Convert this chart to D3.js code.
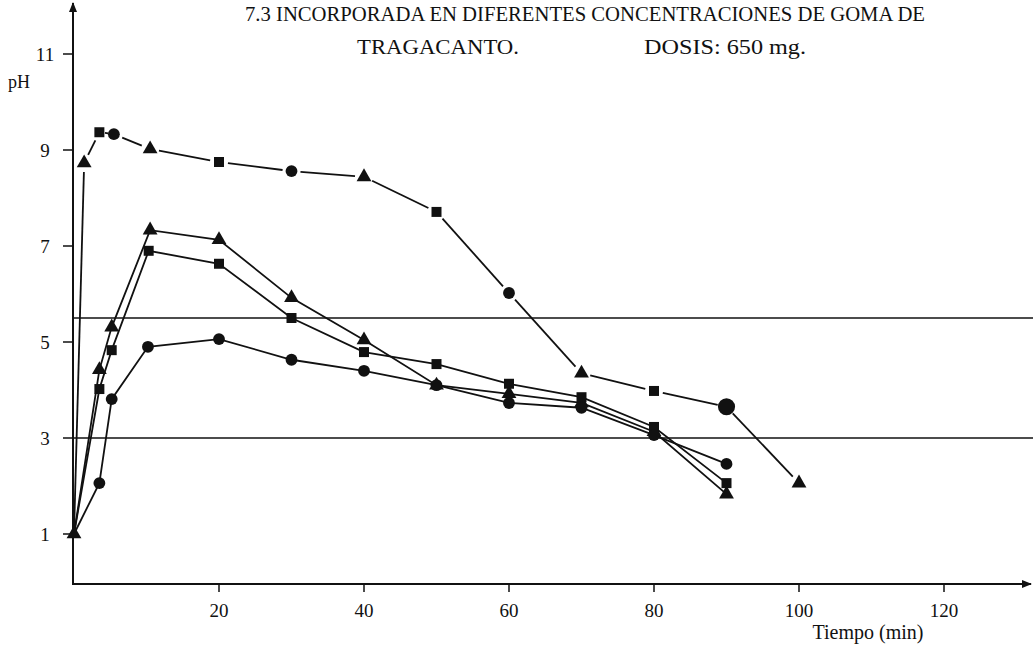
<!DOCTYPE html>
<html>
<head>
<meta charset="utf-8">
<script src="https://cdn.jsdelivr.net/npm/d3@7"></script>
<style>
  body { margin: 0; background: #fff; }
  svg { display: block; }
  text { font-family: "Liberation Serif", "DejaVu Serif", serif; fill: #111; }
</style>
</head>
<body>
<div id="chart"></div>
<script>
// pH vs tiempo - four series
const timesA = [0, 1.4, 3.5, 5.5, 10.5, 20, 30, 40, 50, 60, 70, 80, 90, 100];
const phA = [1, 8.73, 9.37, 9.33, 9.02, 8.75, 8.56, 8.44, 7.71, 6.02, 4.35, 3.98, 3.65, 2.06];
const shapesA = ['triangle', 'triangle', 'square', 'circle', 'triangle', 'square', 'circle',
  'triangle', 'square', 'circle', 'triangle', 'square', 'bigcircle', 'triangle'];

const timesB = [0, 3.5, 5.2, 10.5, 20, 30, 40, 50, 60, 70, 80, 90];
const phB = [1, 4.42, 5.31, 7.33, 7.13, 5.92, 5.04, 4.1, 3.92, 3.73, 3.13, 1.83];

const timesC = [0, 3.5, 5.2, 10.3, 20, 30, 40, 50, 60, 70, 80, 90];
const phC = [1, 4.02, 4.83, 6.9, 6.63, 5.5, 4.79, 4.54, 4.13, 3.85, 3.23, 2.06];

const timesD = [0, 3.5, 5.2, 10.2, 20, 30, 40, 50, 60, 70, 80, 90];
const phD = [1, 2.06, 3.81, 4.9, 5.06, 4.63, 4.4, 4.1, 3.73, 3.63, 3.06, 2.46];

const refLines = [5.5, 3];
const yTicks = [1, 3, 5, 7, 9, 11];
const xTicks = [20, 40, 60, 80, 100, 120];

const width = 1033;
const height = 649;

const x = d3.scaleLinear().domain([0, 132]).range([74, 1031]);
const y = d3.scaleLinear().domain([0, 12]).range([582, 6]);

const svg = d3.select('#chart')
  .append('svg')
  .attr('width', width)
  .attr('height', height);

svg.append('defs').append('marker')
  .attr('id', 'arrow')
  .attr('viewBox', '0 0 10 10')
  .attr('refX', 9).attr('refY', 5)
  .attr('markerWidth', 5).attr('markerHeight', 5)
  .attr('orient', 'auto')
  .append('path')
  .attr('d', 'M0,1 L10,5 L0,9 Z')
  .attr('fill', '#111');

// Title
svg.append('text')
  .attr('x', 245).attr('y', 21)
  .attr('textLength', 680)
  .attr('lengthAdjust', 'spacingAndGlyphs')
  .style('font-size', '20px')
  .text('7.3 INCORPORADA EN DIFERENTES CONCENTRACIONES DE GOMA DE');

svg.append('text')
  .attr('x', 357).attr('y', 54)
  .attr('textLength', 162)
  .attr('lengthAdjust', 'spacingAndGlyphs')
  .style('font-size', '21px')
  .text('TRAGACANTO.');

svg.append('text')
  .attr('x', 644).attr('y', 54)
  .attr('textLength', 162)
  .attr('lengthAdjust', 'spacingAndGlyphs')
  .style('font-size', '21px')
  .text('DOSIS: 650 mg.');

// Axes
svg.append('line')
  .attr('x1', x(0) - 1).attr('x2', x(0) - 1)
  .attr('y1', y(0) + 2).attr('y2', 3)
  .attr('stroke', '#111').attr('stroke-width', 2)
  .attr('marker-end', 'url(#arrow)');

svg.append('line')
  .attr('x1', x(0) - 2).attr('x2', x(132))
  .attr('y1', y(0) + 2).attr('y2', y(0) + 2)
  .attr('stroke', '#111').attr('stroke-width', 2)
  .attr('marker-end', 'url(#arrow)');

const yAxis = svg.append('g');
yAxis.selectAll('line')
  .data(yTicks)
  .enter()
  .append('line')
  .attr('x1', x(0) - 11).attr('x2', x(0) - 1)
  .attr('y1', d => y(d)).attr('y2', d => y(d))
  .attr('stroke', '#111').attr('stroke-width', 1.5);
yAxis.selectAll('text')
  .data(yTicks)
  .enter()
  .append('text')
  .attr('x', 45).attr('y', d => y(d))
  .attr('dy', '0.35em')
  .attr('text-anchor', 'middle')
  .style('font-size', '19px')
  .text(d => d);

svg.append('text')
  .attr('x', 8).attr('y', 88)
  .style('font-size', '18px')
  .text('pH');

const xAxis = svg.append('g');
xAxis.selectAll('line')
  .data(xTicks)
  .enter()
  .append('line')
  .attr('x1', d => x(d)).attr('x2', d => x(d))
  .attr('y1', y(0) + 2).attr('y2', y(0) + 10)
  .attr('stroke', '#111').attr('stroke-width', 1.5);
xAxis.selectAll('text')
  .data(xTicks)
  .enter()
  .append('text')
  .attr('x', d => x(d)).attr('y', 617)
  .attr('text-anchor', 'middle')
  .style('font-size', '19px')
  .text(d => d);

svg.append('text')
  .attr('x', 868).attr('y', 639)
  .attr('text-anchor', 'middle')
  .style('font-size', '20px')
  .text('Tiempo (min)');

// Reference lines
svg.selectAll('.ref')
  .data(refLines)
  .enter()
  .append('line')
  .attr('class', 'ref')
  .attr('x1', x(0) - 1).attr('x2', width)
  .attr('y1', d => y(d)).attr('y2', d => y(d))
  .attr('stroke', '#111').attr('stroke-width', 1.6);

// Series
const zip = (ts, vs) => ts.map((t, i) => ({ t, v: vs[i] }));
const line = d3.line().x(d => x(d.t)).y(d => y(d.v));

const series = [
  { pts: zip(timesB, phB), shape: () => 'triangle' },
  { pts: zip(timesC, phC), shape: () => 'square' },
  { pts: zip(timesD, phD), shape: () => 'circle' }
];

series.forEach(s => {
  svg.append('path')
    .datum(s.pts)
    .attr('d', line)
    .attr('fill', 'none')
    .attr('stroke', '#111')
    .attr('stroke-width', 1.8);
});

// Top series is drawn with small gaps around its markers
const ptsA = zip(timesA, phA);
const gap = 9;
const segs = d3.pairs(ptsA).map(([a, b], i) => {
  const x1 = x(a.t), y1 = y(a.v), x2 = x(b.t), y2 = y(b.v);
  const len = Math.hypot(x2 - x1, y2 - y1);
  const ux = (x2 - x1) / len, uy = (y2 - y1) / len;
  const g1 = i === 0 ? 0 : gap;
  return { x1: x1 + ux * g1, y1: y1 + uy * g1, x2: x2 - ux * gap, y2: y2 - uy * gap };
});
svg.selectAll('.segA')
  .data(segs)
  .enter()
  .append('line')
  .attr('class', 'segA')
  .attr('x1', d => d.x1).attr('y1', d => d.y1)
  .attr('x2', d => d.x2).attr('y2', d => d.y2)
  .attr('stroke', '#111')
  .attr('stroke-width', 1.8);

// Markers
const symbolFor = {
  triangle: d3.symbol().type(d3.symbolTriangle).size(95),
  square: d3.symbol().type(d3.symbolSquare).size(100),
  circle: d3.symbol().type(d3.symbolCircle).size(110),
  bigcircle: d3.symbol().type(d3.symbolCircle).size(230)
};

function drawMarkers(pts, shapeOf) {
  svg.append('g')
    .selectAll('path')
    .data(pts.slice(1))
    .enter()
    .append('path')
    .attr('transform', d => `translate(${x(d.t)},${y(d.v)})`)
    .attr('d', (d, i) => symbolFor[shapeOf(i + 1)]())
    .attr('fill', '#111');
}

series.forEach(s => drawMarkers(s.pts, s.shape));
drawMarkers(ptsA, i => shapesA[i]);

// shared origin point
svg.append('path')
  .attr('transform', `translate(${x(timesA[0])},${y(phA[0])})`)
  .attr('d', symbolFor.triangle())
  .attr('fill', '#111');
</script>
</body>
</html>
